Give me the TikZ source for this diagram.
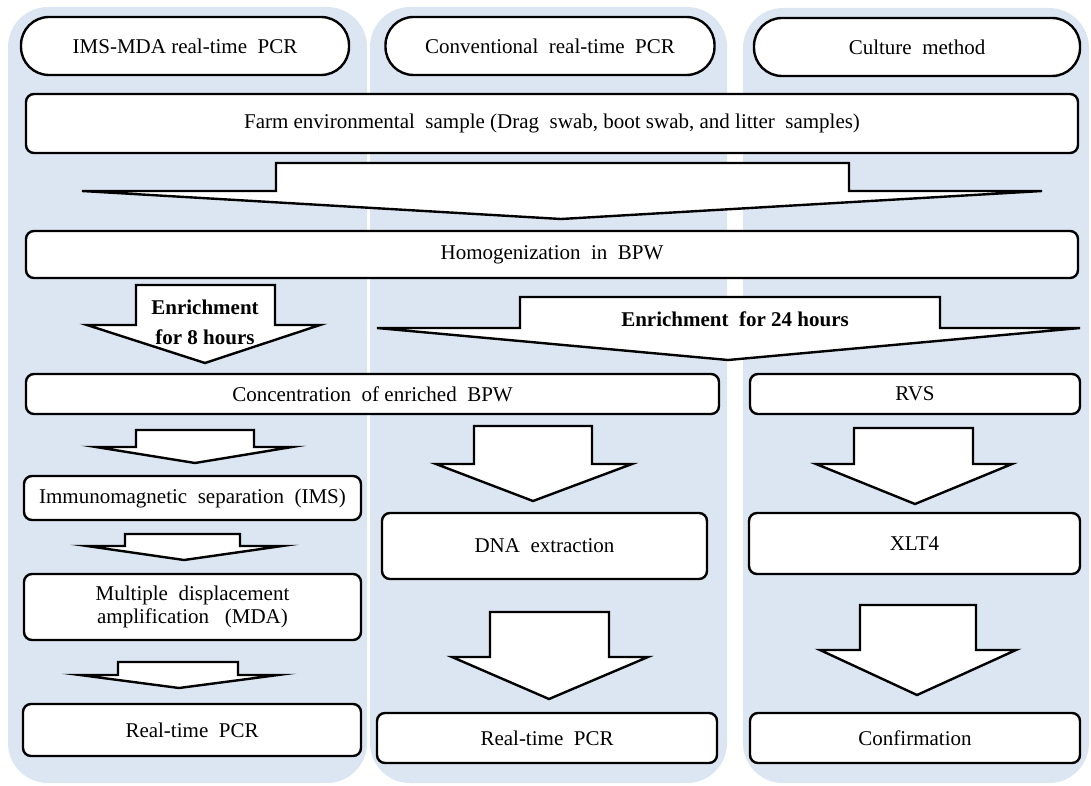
\documentclass[tikz,border=0pt]{standalone}
\usepackage{fontspec}
\setmainfont{Liberation Serif}
\newfontfamily\tnr{Liberation Serif}
\definecolor{panelblue}{RGB}{220,230,242}
\newcommand\blockarrow[8]{%
  \draw[barrow] (#1,#3) -- (#1,#6) -- (#4,#6) -- (#7,#8) -- (#5,#6) -- (#2,#6) -- (#2,#3) -- cycle;}
\begin{document}
\begin{tikzpicture}[x=1pt,y=-1pt,
  panel/.style={fill=panelblue,draw=none,rounded corners=40pt},
  stadium/.style={draw=black,line width=2.4pt,fill=white,rounded corners=28pt,minimum height=58pt,inner sep=0pt,font=\tnr\fontsize{21}{24}\selectfont},
  stepbox/.style={draw=black,line width=2.4pt,fill=white,rounded corners=8pt,inner sep=0pt,font=\tnr\fontsize{21}{24}\selectfont,align=center},
  barrow/.style={draw=black,line width=2.4pt,fill=white,line join=miter,miter limit=20},
  lbl/.style={font=\tnr\fontsize{21}{24}\selectfont\bfseries,inner sep=0pt}]
\useasboundingbox (0,0) rectangle (1091,786);
% panels
\fill[panel] (8,7) rectangle (367,783);
\fill[panel] (370,7) rectangle (727,783);
\fill[panel] (743,8) rectangle (1089,783);
% headers
\node[stadium,minimum width=328pt] (h1) at (185,46) {IMS-MDA real-time\ \ PCR};
\node[stadium,minimum width=329pt] (h2) at (550,46) {Conventional\ \ real-time\ \ PCR};
\node[stadium,minimum width=326pt] (h3) at (917,47) {Culture\ \ method};
% common boxes
\node[stepbox,minimum width=1052pt,minimum height=59pt] (farm) at (552,123.5) {Farm environmental\ \ sample (Drag\ \ swab, boot swab, and litter\ \ samples)};
\blockarrow{276}{849}{163}{82}{1042}{191}{561}{219}
\node[stepbox,minimum width=1052pt,minimum height=47pt] (homo) at (552,254.5) {Homogenization\ \ in\ \ BPW};
% enrichment arrows
\blockarrow{136}{275}{285}{87}{320}{325}{205}{363}
\node[lbl] (en8a) at (205,307) {Enrichment};
\node[lbl] (en8b) at (205,337) {for 8 hours};
\blockarrow{520}{940}{297}{377}{1080}{328}{728}{360}
\node[lbl] (en24) at (735,319) {Enrichment\ \ for 24 hours};
% second level boxes
\node[stepbox,minimum width=693pt,minimum height=40pt] (conc) at (372.5,394) {Concentration\ \ of enriched\ \ BPW};
\node[stepbox,minimum width=330pt,minimum height=40pt] (rvs) at (915,394) {RVS};
% left column
\blockarrow{136}{254}{430}{96}{292}{447}{195}{463}
\node[stepbox,minimum width=337pt,minimum height=44pt] (ims) at (192.5,498) {Immunomagnetic\ \ separation\ \ (IMS)};
\blockarrow{125}{240}{534}{87}{282}{546}{184}{560}
\node[stepbox,minimum width=337pt,minimum height=66pt,font=\tnr\fontsize{21}{23}\selectfont] (mda) at (192.5,607) {Multiple\ \ displacement\\amplification\ \ \ (MDA)};
\blockarrow{118}{238}{662}{80}{278}{675}{179}{688}
\node[stepbox,minimum width=338pt,minimum height=52pt] (pcr1) at (192,730) {Real-time\ \ PCR};
% middle column
\blockarrow{474}{592}{426}{436}{632}{464}{533}{501}
\node[stepbox,minimum width=325pt,minimum height=66pt] (dna) at (544.5,546) {DNA\ \ extraction};
\blockarrow{490}{609}{612}{452}{648}{657}{549}{699}
\node[stepbox,minimum width=340pt,minimum height=50pt] (pcr2) at (547,738) {Real-time\ \ PCR};
% right column
\blockarrow{854}{973}{428}{816}{1012}{464}{915}{504}
\node[stepbox,minimum width=331pt,minimum height=61pt] (xlt) at (914.5,543.5) {XLT4};
\blockarrow{860}{976}{605}{820}{1016}{650}{917}{695}
\node[stepbox,minimum width=330pt,minimum height=50pt] (conf) at (915,738) {Confirmation};
\end{tikzpicture}
\end{document}
